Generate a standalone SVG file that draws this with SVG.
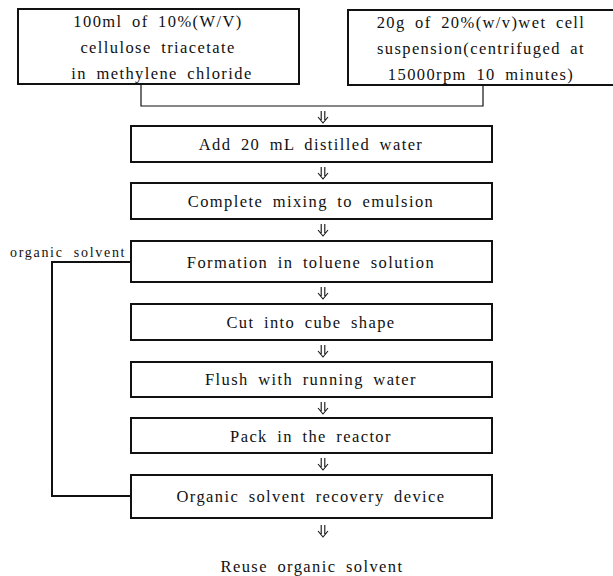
<svg xmlns="http://www.w3.org/2000/svg" width="613" height="576" viewBox="0 0 613 576">
<style>
.box{fill:#fff;stroke:#111;stroke-width:2}
.t{font-family:"Liberation Serif","Times New Roman",serif;font-size:16.5px;fill:#111;text-anchor:middle;letter-spacing:1.4px;word-spacing:4px}
.s{font-family:"Liberation Serif","Times New Roman",serif;font-size:14px;fill:#111;letter-spacing:1.7px;word-spacing:5px}
.ln{fill:none;stroke:#111;stroke-width:1.2}
.lp{fill:none;stroke:#111;stroke-width:2}
.ar{fill:none;stroke:#111;stroke-width:1.1}
</style>
<defs>
<g id="dar"><path class="ar" d="M-1.8,0 V9 M1.8,0 V9 M-5,6 L0,12 L5,6"/></g>
</defs>
<rect width="613" height="576" fill="#fff"/>
<g id="connectors">
<path class="ln" d="M141,84 V106 H483 V85"/>
<path class="lp" d="M131,262 H52 V496 H131"/>
<use href="#dar" x="323" y="111"/>
<use href="#dar" x="323" y="167"/>
<use href="#dar" x="323" y="224"/>
<use href="#dar" x="323" y="287"/>
<use href="#dar" x="323" y="345"/>
<use href="#dar" x="323" y="402"/>
<use href="#dar" x="323" y="458"/>
<use href="#dar" x="323" y="525"/>
</g>
<g id="n1"><rect class="box" x="18" y="9" width="281" height="75"/>
<text class="t" x="158" y="27">100ml of 10%(W/V)</text>
<text class="t" x="158" y="53">cellulose triacetate</text>
<text class="t" x="162" y="79">in methylene chloride</text></g>
<g id="n2"><rect class="box" x="348" y="10" width="270" height="75"/>
<text class="t" x="481" y="28">20g of 20%(w/v)wet cell</text>
<text class="t" x="481" y="54">suspension(centrifuged at</text>
<text class="t" x="481" y="80">15000rpm 10 minutes)</text></g>
<g id="n3"><rect class="box" x="131" y="126" width="361" height="36"/>
<text class="t" x="311" y="150">Add 20 mL distilled water</text></g>
<g id="n4"><rect class="box" x="131" y="183" width="361" height="36"/>
<text class="t" x="311" y="207">Complete mixing to emulsion</text></g>
<g id="n5"><rect class="box" x="131" y="241" width="361" height="41"/>
<text class="t" x="311" y="268">Formation in toluene solution</text></g>
<g id="n6"><rect class="box" x="131" y="304" width="361" height="36"/>
<text class="t" x="311" y="328">Cut into cube shape</text></g>
<g id="n7"><rect class="box" x="131" y="362" width="361" height="35"/>
<text class="t" x="311" y="385">Flush with running water</text></g>
<g id="n8"><rect class="box" x="131" y="418" width="361" height="35"/>
<text class="t" x="311" y="442">Pack in the reactor</text></g>
<g id="n9"><rect class="box" x="131" y="475" width="361" height="43"/>
<text class="t" x="311" y="502">Organic solvent recovery device</text></g>
<g id="n10"><text class="t" x="312" y="572">Reuse organic solvent</text></g>
<g id="lbl"><text class="s" x="10" y="257">organic solvent</text></g>
</svg>
